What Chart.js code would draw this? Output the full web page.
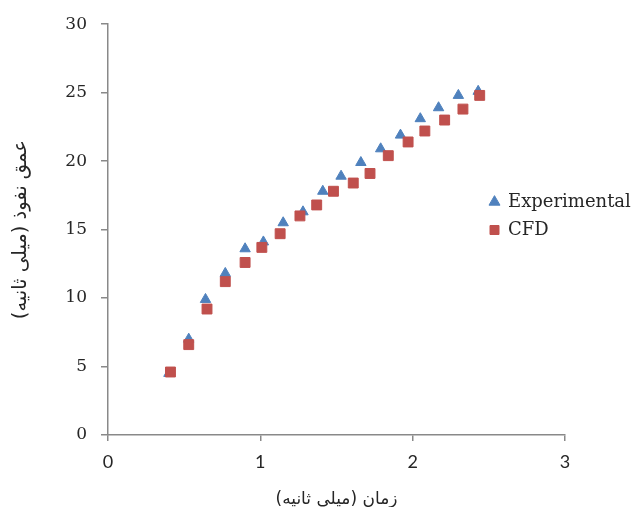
<!DOCTYPE html>
<html>
<head>
<meta charset="utf-8">
<script src="https://cdn.jsdelivr.net/npm/chart.js@4/dist/chart.umd.min.js"></script>
<style>
  html, body { margin: 0; padding: 0; background: #ffffff; }
  #wrap { width: 638px; height: 507px; position: relative; }
</style>
</head>
<body>
<div id="wrap"><canvas id="c" width="638" height="507"></canvas></div>
<script>
// Series: Experimental (triangles)
const expTime  = [0.40, 0.53, 0.64, 0.77, 0.90, 1.02, 1.15, 1.28, 1.41, 1.53, 1.66, 1.79, 1.92, 2.05, 2.17, 2.30, 2.43];
const expDepth = [4.5, 7.0, 9.9, 11.8, 13.6, 14.1, 15.5, 16.3, 17.8, 18.9, 19.9, 20.9, 21.9, 23.1, 23.9, 24.8, 25.1];
// Series: CFD (squares)
const cfdTime  = [0.41, 0.53, 0.65, 0.77, 0.90, 1.01, 1.13, 1.26, 1.37, 1.48, 1.61, 1.72, 1.84, 1.97, 2.08, 2.21, 2.33, 2.44];
const cfdDepth = [4.6, 6.6, 9.2, 11.2, 12.6, 13.7, 14.7, 16.0, 16.8, 17.8, 18.4, 19.1, 20.4, 21.4, 22.2, 23.0, 23.8, 24.8];
// Axis ticks and labels
const xTicks = [0, 1, 2, 3];
const yTicks = [0, 5, 10, 15, 20, 25, 30];
const seriesNames = ['Experimental', 'CFD'];
const xTitle = 'زمان (میلی ثانیه)';
const yTitle = 'عمق نفوذ (میلی ثانیه)';

const toPts = (xs, ys) => xs.map((x, i) => ({ x: x, y: ys[i] }));

const BLUE = '#4F81BD';
const RED = '#C0504D';
const AXIS = '#898989';
const TEXT = '#262626';

const moveLegend = {
  id: 'moveLegend',
  afterLayout(chart) {
    const lg = chart.legend;
    if (!lg) return;
    const w = lg.width, h = lg.height;
    lg.left = 480;
    lg.top = 183;
    lg.right = lg.left + w;
    lg.bottom = lg.top + h;
  }
};

new Chart(document.getElementById('c'), {
  type: 'scatter',
  data: {
    datasets: [
      {
        label: seriesNames[0],
        data: toPts(expTime, expDepth),
        pointStyle: 'triangle',
        pointRadius: 6,
        pointHoverRadius: 6,
        backgroundColor: BLUE,
        borderColor: BLUE,
        borderWidth: 1,
        order: 1
      },
      {
        label: seriesNames[1],
        data: toPts(cfdTime, cfdDepth),
        pointStyle: 'rect',
        pointRadius: 7,
        pointHoverRadius: 7,
        backgroundColor: RED,
        borderColor: RED,
        borderWidth: 1,
        order: 0
      }
    ]
  },
  options: {
    responsive: false,
    animation: false,
    devicePixelRatio: 1,
    layout: { padding: { left: 0, top: 24, right: 73, bottom: 0 } },
    plugins: {
      legend: {
        position: 'chartArea',
        align: 'start',
        labels: {
          usePointStyle: true,
          boxWidth: 9,
          boxHeight: 9,
          padding: 10,
          color: TEXT,
          font: { family: 'DejaVu Serif', size: 18 },
          sort: (a, b) => a.datasetIndex - b.datasetIndex
        }
      },
      tooltip: { enabled: false }
    },
    scales: {
      x: {
        type: 'linear',
        min: 0,
        max: 3,
        afterBuildTicks(scale) { scale.ticks = xTicks.map(v => ({ value: v })); },
        afterFit(scale) { scale.height = 72; },
        grid: { display: true, drawOnChartArea: false, drawTicks: true, tickLength: 6, color: AXIS, lineWidth: 1.5 },
        border: { display: true, color: AXIS, width: 1.5 },
        ticks: { color: TEXT, padding: 10, font: { family: 'Lato', size: 18 } },
        title: {
          display: true,
          text: xTitle,
          color: TEXT,
          font: { family: 'DejaVu Sans', size: 17 },
          padding: { top: 0, bottom: -3 }
        }
      },
      y: {
        type: 'linear',
        min: 0,
        max: 30,
        afterBuildTicks(scale) { scale.ticks = yTicks.map(v => ({ value: v })); },
        afterFit(scale) { scale.width = 108; },
        grid: { display: true, drawOnChartArea: false, drawTicks: true, tickLength: 7, color: AXIS, lineWidth: 1.5 },
        border: { display: true, color: AXIS, width: 1.5 },
        ticks: { color: TEXT, padding: 14, font: { family: 'DejaVu Serif', size: 17 } },
        title: {
          display: true,
          text: yTitle,
          color: TEXT,
          font: { family: 'DejaVu Sans', size: 19.5 },
          padding: { top: 9, bottom: 0 }
        }
      }
    }
  },
  plugins: [moveLegend]
});
</script>
</body>
</html>
